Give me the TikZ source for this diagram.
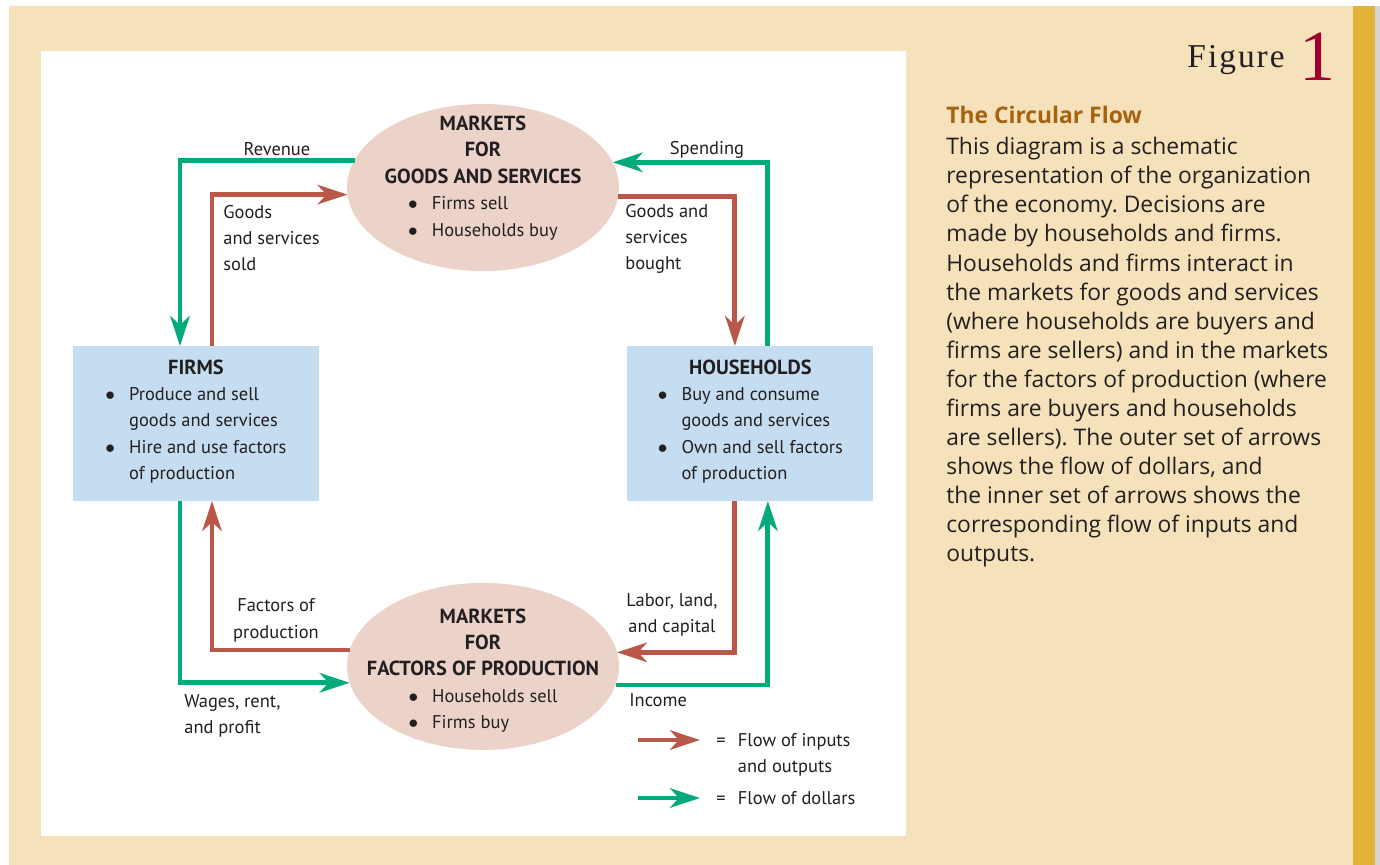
\documentclass[tikz,border=0pt]{standalone}
\usepackage{fontspec}
\newfontfamily\diagfont{PT Sans}
\newfontfamily\capfont{Open Sans}
\newfontfamily\figfont[LetterSpace=6]{Liberation Serif}
\newfontfamily\fignumfont{Liberation Serif}
\usetikzlibrary{shapes.geometric, arrows.meta}
\frenchspacing
\definecolor{paper}{HTML}{F6E2BA}
\definecolor{goldbar}{HTML}{E4B43A}
\definecolor{edge}{HTML}{D4D4D4}
\definecolor{marketfill}{HTML}{EBD3C9}
\definecolor{agentfill}{HTML}{C5DDF1}
\definecolor{goodsred}{HTML}{B95848}
\definecolor{dollargreen}{HTML}{00AA7A}
\definecolor{ink}{HTML}{231F20}
\definecolor{titlebrown}{HTML}{A5620F}
\definecolor{figred}{HTML}{A1002F}
\newcommand{\hd}[1]{{\fontsize{11.6}{15}\selectfont\textbf{#1}}}
\newcommand{\bl}{$\bullet$}
\tikzstyle{market} = [ellipse, minimum width=5.44cm, minimum height=3.34cm, inner sep=0pt, outer sep=0pt, fill=marketfill]
\tikzstyle{markettext} = [align=center, inner sep=0pt, text=ink, font=\diagfont\fontsize{10.5}{15}\selectfont]
\tikzstyle{agent} = [rectangle, minimum width=4.92cm, minimum height=3.1cm, outer sep=0pt, fill=agentfill, align=center, text=ink, font=\diagfont\fontsize{10.5}{15}\selectfont]
\tikzstyle{flowtext} = [align=left, inner sep=0pt, text=ink, font=\diagfont\fontsize{10.5}{15}\selectfont]
\tikzstyle{goods} = [line width=2.8pt, draw=goodsred, -{Stealth[length=17pt,width=11pt,inset=5pt]}]
\tikzstyle{dollars} = [line width=2.8pt, draw=dollargreen, -{Stealth[length=17pt,width=11pt,inset=5pt]}]

\begin{document}
\begin{tikzpicture}[x=0.02cm, y=-0.02cm, node distance=1cm]
        % page and panels
        \useasboundingbox (0,0) rectangle (1380,865);
        \fill[white] (0,0) rectangle (1380,865);
        \fill[paper] (9,6) rectangle (1353,865);
        \fill[goldbar] (1353,6) rectangle (1375,865);
        \fill[edge] (1375,6) rectangle (1380,865);
        \fill[white] (41,51) rectangle (906,836);

        % markets and agents
        \node (gsm) [market] at (483,187.5) {};
        \node (fpm) [market, below of=gsm, yshift=-8.58cm] {};
        \node (firms) [agent] at (196,423.5) {\hd{FIRMS}\\\begin{tabular}[t]{@{}c@{\hspace{8pt}}l@{}}\bl & Produce and sell\\ & goods and services\\ \bl & Hire and use factors\\ & of production\end{tabular}};
        \node (hh) [agent, right of=firms, xshift=10.09cm] {\hd{HOUSEHOLDS}\\\begin{tabular}[t]{@{}c@{\hspace{8pt}}l@{}}\bl & Buy and consume\\ & goods and services\\ \bl & Own and sell factors\\ & of production\end{tabular}};
        \node (gsmtext) [markettext] at (483,180) {\hd{MARKETS}\\\hd{FOR}\\\hd{GOODS AND SERVICES}\\\begin{tabular}[t]{@{}c@{\hspace{8pt}}l@{}}\bl & Firms sell\\ \bl & Households buy\end{tabular}};
        \node (fpmtext) [markettext] at (483,672.5) {\hd{MARKETS}\\\hd{FOR}\\\hd{FACTORS OF PRODUCTION}\\\begin{tabular}[t]{@{}c@{\hspace{8pt}}l@{}}\bl & Households sell\\ \bl & Firms buy\end{tabular}};

        % flow labels
        \node (revenue) [flowtext] at (277,149) {Revenue};
        \node (spending) [flowtext] at (707,150) {Spending};
        \node (sold) [flowtext, anchor=west] at (223,238) {Goods\\and services\\sold};
        \node (bought) [flowtext, anchor=west] at (625,239) {Goods and\\services\\bought};
        \node (factors) [flowtext, align=center] at (276,620.5) {Factors of\\production};
        \node (labor) [flowtext, align=center] at (672,615) {Labor, land,\\and capital};
        \node (wages) [flowtext, anchor=west] at (184,716) {Wages, rent,\\and profit};
        \node (income) [flowtext, anchor=west] at (629,700) {Income};

        % outer and inner flows
        \draw [dollars] (gsm.168.9) -| ([shift={(-16,0)}]firms.north);
        \draw [goods] ([shift={(16,0)}]firms.north) |- (gsm.183.2);
        \draw [goods] (gsm.356.8) -| ([shift={(-15.5,0)}]hh.north);
        \draw [dollars] ([shift={(17.5,0)}]hh.north) |- (gsm.11.1);
        \draw [goods] ([shift={(-15.5,0)}]hh.south) |- (fpm.6.6);
        \draw [dollars] (fpm.352.5) -| ([shift={(17.5,0)}]hh.south);
        \draw [goods] (fpm.173.4) -| ([shift={(16,0)}]firms.south);
        \draw [dollars] ([shift={(-16,0)}]firms.south) |- (fpm.187.5);

        % legend
        \coordinate (keyin1) at (638,740);
        \coordinate (keyin2) at (700,740);
        \coordinate (keyout1) at (638,798);
        \coordinate (keyout2) at (700,798);
        \draw [goods] (keyin1) -- (keyin2);
        \draw [dollars] (keyout1) -- (keyout2);
        \node (keyintext) [flowtext, anchor=west] at (716,754) {\begin{tabular}{@{}l@{\hspace{7pt}}l@{}}= & Flow of inputs\\ & and outputs\end{tabular}};
        \node (keyouttext) [flowtext, anchor=west] at (716,799) {\begin{tabular}{@{}l@{\hspace{7pt}}l@{}}= & Flow of dollars\end{tabular}};

        % figure caption
        \node (figword) [anchor=base east, inner sep=0pt, text=ink, font=\figfont\fontsize{19}{22}\selectfont] at (1285,68) {Figure};
        \node (fignum) [anchor=base west, inner sep=0pt, text=figred, font=\fignumfont\fontsize{41}{48}\selectfont] at (1299,81) {1};
        \node (captitle) [anchor=base west, inner sep=0pt, text=titlebrown, font=\capfont\bfseries\fontsize{13}{16.55}\selectfont] at (946,123.5) {The Circular Flow};
        \node (capbody) [anchor=north west, inner sep=0pt, align=left, text=ink, font=\capfont\fontsize{13}{16.55}\selectfont] at (946,137) {This diagram is a schematic\\representation of the organization\\of the economy. Decisions are\\made by households and firms.\\Households and firms interact in\\the markets for goods and services\\(where households are buyers and\\firms are sellers) and in the markets\\for the factors of production (where\\firms are buyers and households\\are sellers). The outer set of arrows\\shows the flow of dollars, and\\the inner set of arrows shows the\\corresponding flow of inputs and\\outputs.};
    \end{tikzpicture}
\end{document}
